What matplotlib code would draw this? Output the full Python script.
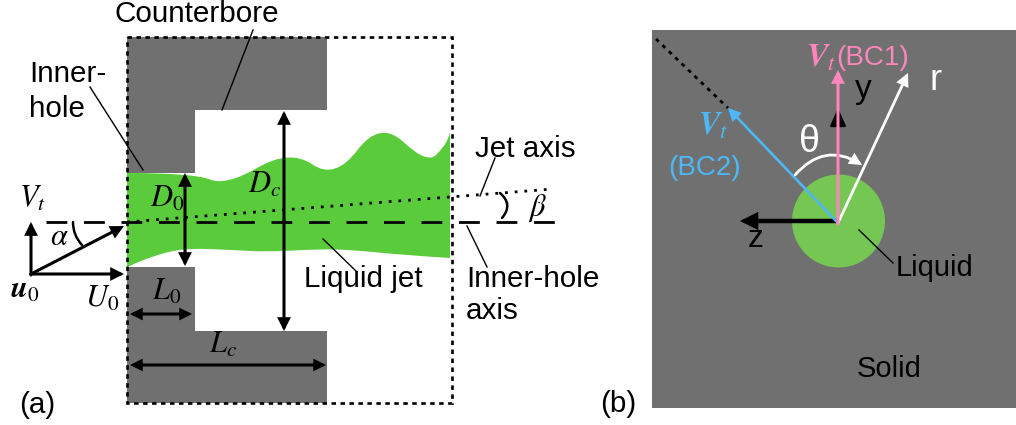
import matplotlib
matplotlib.use('Agg')
import matplotlib.pyplot as plt
from matplotlib.patches import Rectangle, Circle, PathPatch, FancyArrowPatch, Polygon
from matplotlib.path import Path

plt.rcParams['font.family'] = ['Liberation Sans', 'DejaVu Sans']
plt.rcParams['mathtext.fontset'] = 'stix'

GREY = '#707070'
JET_GREEN = '#5acc3c'
DROP_GREEN = '#76c653'
PINK = '#ff85bd'
BLUE = '#4db8f5'

# all geometry, in pixels
solid_x = [127, 327, 327, 195, 195, 127]
solid_top_y = [37, 37, 110, 110, 173, 173]
solid_bot_y = [403, 403, 331, 331, 267, 267]

# bezier controls of the jet edges
jet_top_x = [127, 194, 226, 290, 335, 380, 427, 445, 450]
jet_top_y = [173, 173, 186, 149, 180, 120, 164, 146, 133]
jet_bot_x = [450, 403, 353, 320, 267, 233, 183, 150, 127]
jet_bot_y = [258, 255, 250, 249, 252, 250, 248, 257, 267]

leaders_x = [(253, 222), (90, 143), (323, 357), (495, 480), (467, 487), (859, 893)]
leaders_y = [(30, 110), (87, 170), (239, 272), (158, 196), (226, 267), (230, 263)]


def smooth(xs, ys):
    # quadratic bezier through the midpoints, the read points are the controls
    verts = [(xs[0], ys[0])]
    codes = [Path.MOVETO]
    for i in range(1, len(xs) - 1):
        verts += [(xs[i], ys[i]), ((xs[i] + xs[i + 1]) / 2, (ys[i] + ys[i + 1]) / 2)]
        codes += [Path.CURVE3, Path.CURVE3]
    verts.append((xs[-1], ys[-1]))
    codes.append(Path.LINETO)
    return verts, codes


def arrow(ax, p0, p1, color='black', lw=2.2, size=16, style='-|>', rad=0, z=5):
    ax.add_patch(FancyArrowPatch(p0, p1, arrowstyle=style, mutation_scale=size, color=color, lw=lw,
                                 shrinkA=0, shrinkB=0, connectionstyle=f'arc3,rad={rad}', zorder=z,
                                 joinstyle='miter'))


fig = plt.figure(figsize=(10.16, 4.25), dpi=100)
ax = fig.add_axes([0, 0, 1, 1])
ax.set_xlim(0, 1016)
ax.set_ylim(425, 0)
ax.axis('off')

# panel (a)
ax.add_patch(Polygon(list(zip(solid_x, solid_top_y)), color=GREY, lw=0, zorder=1))
ax.add_patch(Polygon(list(zip(solid_x, solid_bot_y)), color=GREY, lw=0, zorder=1))

v1, c1 = smooth(jet_top_x, jet_top_y)
v2, c2 = smooth(jet_bot_x, jet_bot_y)
ax.add_patch(PathPatch(Path(v1 + v2 + [v1[0]], c1 + [Path.LINETO] + c2[1:] + [Path.CLOSEPOLY]),
                       facecolor=JET_GREEN, lw=0, zorder=2))

ax.add_patch(Rectangle((127, 37), 325, 366, fill=False, ec='black', lw=1.9, ls=(0, (1.7, 1.7)), zorder=6))

ax.plot([46, 555], [222, 222], color='black', lw=2, ls=(0, (7.5, 6)), zorder=4)
ax.plot([127, 553], [222, 189], color='black', lw=2, ls=(0, (1, 2.5)), zorder=4)

for lx, ly in zip(leaders_x[:5], leaders_y[:5]):
    ax.plot(lx, ly, color='black', lw=1, zorder=5)

arrow(ax, (31, 275), (31, 222))
arrow(ax, (31, 274), (124, 274))
arrow(ax, (31, 274), (124, 226))
for p0, p1 in [((185, 220), (185, 173)), ((185, 220), (185, 266)), ((284, 220), (284, 111)),
               ((284, 220), (284, 331))]:
    arrow(ax, p0, p1)
arrow(ax, (130, 314), (192, 314), style='<|-|>', size=14)
arrow(ax, (130, 365), (326, 365), style='<|-|>', size=14)

arrow(ax, (73, 222), (82, 245), style='-', lw=1.8, rad=0.2)
arrow(ax, (500, 193), (502, 218), style='-', lw=1.8, rad=-0.5)

txt = dict(fontsize=21.3, color='black', ha='left', va='baseline', zorder=7)
ax.text(115, 22, 'Counterbore', **txt)
ax.text(29, 82, 'Inner-', **txt)
ax.text(29, 117, 'hole', **txt)
ax.text(475, 157, 'Jet axis', **txt)
ax.text(304, 287, 'Liquid jet', **txt)
ax.text(466, 287, 'Inner-hole', **txt)
ax.text(466, 319, 'axis', **txt)
ax.text(19, 413, '(a)', **txt)
ax.text(600, 412, '(b)', **txt)

mt = dict(fontsize=22, color='black', ha='left', va='baseline', zorder=7)
ax.text(19, 207, r'$V_t$', **mt)
ax.text(50, 245, r'$\alpha$', **mt)
ax.text(150, 207, r'$D_0$', **mt)
ax.text(248, 193, r'$D_c$', **mt)
ax.text(528, 216, r'$\beta$', **mt)
ax.text(10, 298, r'$\mathbfit{u}_0$', **mt)
ax.text(85, 307, r'$U_0$', **mt)
ax.text(152, 300, r'$L_0$', **mt)
ax.text(209, 353, r'$L_c$', **mt)

# panel (b)
ax.add_patch(Rectangle((652, 30), 364, 378, color=GREY, lw=0, zorder=1))
ax.add_patch(Circle((838.5, 221), 46.5, color=DROP_GREEN, lw=0, zorder=2))

ax.plot([656, 728], [39, 108], color='black', lw=2, ls=(0, (1.4, 1.8)), zorder=4)
ax.plot(leaders_x[5], leaders_y[5], color='black', lw=1, zorder=5)

arrow(ax, (838, 221), (838, 108), size=26, lw=1.2, style='-|>,head_length=0.45,head_width=0.2', z=3)
arrow(ax, (838, 221), (740, 221), lw=3.2, size=20)
arrow(ax, (838, 223), (728, 108), color=BLUE, lw=1.9, size=16)
arrow(ax, (838, 223), (908, 73), color='white', lw=2, size=16)
arrow(ax, (838, 224), (838, 70), color=PINK, lw=2.2, size=16, z=6)
arrow(ax, (795, 175), (862, 165), color='white', lw=2, size=15, rad=-0.42)

ax.text(806, 67, r'$\mathbfit{V}_t$', color=PINK, fontsize=23, va='baseline', zorder=7)
ax.text(836, 65, '(BC1)', color=PINK, fontsize=20, va='baseline', zorder=7)
ax.text(698, 135, r'$\mathbfit{V}_t$', color=BLUE, fontsize=23, va='baseline', zorder=7)
ax.text(668, 175, '(BC2)', color=BLUE, fontsize=20, va='baseline', zorder=7)
ax.text(855, 98, 'y', fontsize=24, color='black', va='baseline', zorder=7)
ax.text(929, 90, 'r', fontsize=26, color='white', va='baseline', zorder=7)
ax.text(799, 152, 'θ', fontsize=27, color='white', va='baseline', zorder=7)
ax.text(748, 247, 'z', fontsize=23, color='black', va='baseline', zorder=7)
ax.text(896, 276, 'Liquid', fontsize=21, color='black', va='baseline', zorder=7)
ax.text(857, 377, 'Solid', fontsize=21, color='black', va='baseline', zorder=7)

fig.savefig('out.png', dpi=100)
